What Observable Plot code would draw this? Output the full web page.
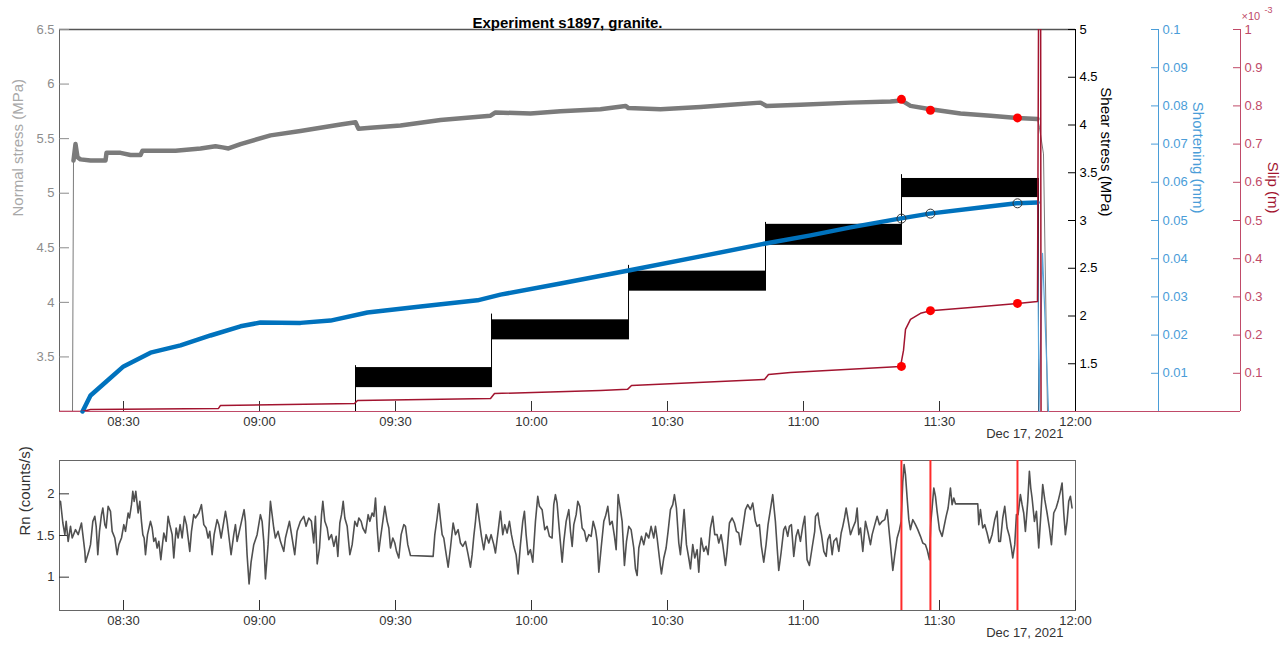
<!DOCTYPE html>
<html><head><meta charset="utf-8">
<script src="https://cdn.jsdelivr.net/npm/d3@7"></script>
<script src="https://cdn.jsdelivr.net/npm/@observablehq/plot@0.6"></script>
<style>
body{margin:0;background:#fff;font-family:"Liberation Sans",Arial,sans-serif}
#wrap{position:relative;width:1288px;height:646px;overflow:hidden}
</style></head><body><div id="wrap"></div>
<script>
// ---- time: minutes after 08:00, Dec 17 2021 ----
const tickMinutes = [30, 60, 90, 120, 150, 180, 210, 240];
const dateLabel = "Dec 17, 2021";
const xStartMinutes = 15.88, xEndMinutes = 240;

// ---- normal stress (MPa), grey ----
const normalMinutes = [18.75,18.97,19.41,19.85,20.51,22.72,24.93,26.03,26.25,29.34,31.54,33.75,34.19,41.47,46.99,50.29,51.84,53.16,55.81,62.43,69.04,77.87,81.18,81.84,84.49,91.10,99.93,110.96,112.06,119.78,126.40,135.22,140.74,141.40,148.46,157.28,163.90,170.51,171.84,179.34,190.37,199.19,201.62,203.60,208.02,214.63,221.25,227.21,231.62,232.06,232.94,233.82];
const normalMPa = [3.00,5.30,5.45,5.33,5.31,5.30,5.30,5.30,5.37,5.37,5.35,5.35,5.39,5.39,5.41,5.43,5.42,5.41,5.45,5.53,5.57,5.63,5.65,5.59,5.60,5.62,5.67,5.71,5.74,5.73,5.75,5.77,5.80,5.78,5.77,5.79,5.81,5.83,5.80,5.81,5.83,5.84,5.85,5.80,5.77,5.73,5.71,5.69,5.68,5.60,5.36,3.00];
const normalTicks = [3.5,4,4.5,5,5.5,6,6.5];

// ---- shear stress (MPa), black noisy load stages ----
const shearStageStart = [81.18,111.18,141.40,171.62,201.62];
const shearStageEnd   = [111.18,141.40,171.62,201.62,231.84];
const shearStageLow   = [1.25,1.75,2.26,2.74,3.24];
const shearStageHigh  = [1.46,1.96,2.47,2.96,3.44];
const shearJumpMinutes = [81.18,111.18,141.40,171.62,201.62,231.84];
const shearJumpFrom    = [1.00,1.25,1.75,2.26,2.74,1.00];
const shearJumpTo      = [1.48,2.02,2.53,2.98,3.48,3.44];
const shearTicks = [1.5,2,2.5,3,3.5,4,4.5,5];

// ---- shortening (mm), blue ----
const shortMinutes = [20.96,22.72,26.47,30.00,35.96,42.57,49.19,55.81,60.22,69.04,75.66,83.82,95.52,108.09,113.16,126.40,141.40,157.28,171.62,181.55,190.37,201.18,207.80,219.05,226.99,231.62,231.95,232.73,234.05];
const shortMm = [0,0.0042,0.0081,0.0118,0.0154,0.0173,0.0199,0.0223,0.0233,0.0232,0.0238,0.0259,0.0275,0.0291,0.0306,0.0335,0.0369,0.0406,0.0440,0.0461,0.0482,0.0505,0.0518,0.0534,0.0545,0.0547,0,0.0414,0];
const shortTicks = [0.01,0.02,0.03,0.04,0.05,0.06,0.07,0.08,0.09,0.1];

// ---- slip (x10^-3 m), dark red ----
const slipMinutes = [15.88,20.96,22.72,50.96,51.40,80.96,81.62,110.96,111.84,135.22,141.18,142.06,171.40,172.28,177.13,201.40,202.06,202.50,203.60,205.81,208.02,216.84,227.21,231.62,231.90,232.30,232.40];
const slipE3 = [0,0,0.005,0.008,0.016,0.021,0.029,0.034,0.047,0.055,0.058,0.068,0.084,0.097,0.102,0.118,0.160,0.215,0.241,0.257,0.264,0.272,0.283,0.288,1.2,1.2,0];
const slipTicks = [0.1,0.2,0.3,0.4,0.5,0.6,0.7,0.8,0.9,1];

// ---- marked events ----
const eventMinutes = [201.6, 208.0, 227.2];
const eventNormal = [5.86, 5.76, 5.69];
const eventSlip = [0.118, 0.264, 0.283];
const eventShort = [0.0505, 0.0518, 0.0545];

// ---- radon (counts/s) ----
const rnMinutes = [16.10,16.32,16.62,17.06,17.35,17.79,18.31,18.68,19.41,20.00,20.73,21.03,21.47,21.62,22.35,22.72,23.23,23.67,23.97,24.33,24.70,25.14,25.44,25.88,26.17,26.61,27.13,27.50,28.08,28.60,28.97,29.55,30.07,30.44,31.02,31.32,31.76,32.05,32.35,32.71,33.23,33.60,33.96,34.26,34.55,34.85,35.29,35.95,36.32,36.68,37.05,37.42,37.79,38.23,38.67,38.89,39.40,39.84,40.21,40.73,41.09,41.61,42.05,42.49,42.93,43.44,43.89,44.62,44.99,45.50,45.87,46.61,47.19,47.71,48.22,48.66,49.03,49.55,49.99,50.65,51.02,51.53,52.49,52.85,53.29,53.73,54.32,54.69,55.06,56.60,56.90,57.26,57.70,58.14,58.73,59.47,60.20,60.57,60.94,61.31,61.89,62.41,62.78,63.14,63.51,64.10,64.61,65.35,65.72,66.60,67.19,67.77,68.29,69.02,69.76,70.27,70.86,71.45,71.96,72.33,
72.72,73.24,73.68,73.97,74.41,74.93,75.30,75.88,76.40,76.91,77.28,77.72,78.09,78.46,78.82,79.34,79.93,80.44,81.03,81.54,81.91,82.42,82.79,83.38,83.97,84.34,84.85,85.22,85.59,85.95,86.32,86.69,87.20,87.64,88.16,88.53,88.89,89.41,89.85,90.22,90.73,91.24,91.83,92.20,92.71,93.30,98.30,98.67,99.18,99.55,99.92,100.29,100.65,101.02,101.61,102.12,102.71,103.23,103.81,104.33,104.84,105.43,106.02,106.53,106.90,107.27,107.64,108.00,108.52,108.96,109.47,109.99,110.58,111.09,111.68,112.05,112.63,113.15,113.66,114.10,114.62,115.13,115.57,116.09,116.60,117.04,117.56,118.07,118.44,118.81,119.25,119.76,120.28,120.87,121.38,121.75,122.34,122.92,123.44,123.95,124.54,124.91,125.28,125.64,126.16,
126.76,127.13,127.64,128.23,128.60,128.97,129.33,129.85,130.21,130.66,131.17,131.69,132.13,132.64,133.16,133.60,134.11,134.48,134.85,135.36,135.95,136.32,136.83,137.27,137.79,138.30,138.67,139.11,139.62,139.99,140.50,140.95,141.46,141.97,142.56,142.93,143.30,143.67,144.25,144.77,145.28,145.87,146.38,146.97,147.34,147.71,148.22,148.66,149.18,149.69,150.13,150.65,151.16,151.53,151.97,152.49,152.85,153.22,153.66,154.18,154.69,155.06,155.57,156.01,156.53,156.90,157.41,158.00,158.51,158.95,159.47,159.98,160.42,160.94,161.31,161.82,162.19,162.78,163.14,163.66,164.25,164.76,165.20,165.72,166.08,166.45,166.82,167.19,167.70,168.29,168.80,169.39,169.76,170.27,170.71,171.23,171.74,172.18,172.70,173.21,173.80,174.17,174.54,175.05,175.64,176.01,176.52,176.89,177.33,177.85,178.36,178.80,179.32,179.83,180.27,180.79,181.30,181.89,182.47,
182.65,183.16,183.53,183.97,184.48,185.00,185.36,185.81,186.32,186.69,187.28,187.79,188.31,188.67,189.04,189.41,189.77,190.36,190.88,191.47,191.83,192.20,192.57,193.08,193.67,194.26,194.77,195.14,195.73,196.24,196.76,197.35,197.93,198.45,198.82,199.18,199.70,200.14,200.65,201.17,201.54,201.90,202.20,202.49,202.86,203.23,203.59,204.11,204.70,205.21,205.80,206.31,206.90,207.27,207.78,208.08,208.37,208.74,209.11,209.47,209.99,210.58,210.94,211.46,211.90,212.41,212.78,213.15,213.52,218.44,218.66,219.03,219.54,219.98,220.50,221.01,221.60,222.19,222.70,223.07,223.44,223.95,224.39,224.91,225.42,225.86,226.16,226.60,226.97,227.33,227.85,228.22,228.58,228.95,229.47,229.83,230.13,230.42,230.94,231.38,231.89,232.26,232.77,233.22,233.73,234.24,234.69,235.20,235.72,236.16,236.67,237.04,237.41,237.77,238.14,238.51,238.88,239.24];
const rnValues = [1.91,1.80,1.65,1.51,1.67,1.43,1.61,1.47,1.57,1.51,1.65,1.51,1.31,1.18,1.31,1.39,1.67,1.73,1.61,1.27,1.55,1.75,1.83,1.63,1.59,1.85,1.79,1.55,1.47,1.27,1.39,1.47,1.63,1.55,1.77,1.71,1.87,2.03,1.91,2.03,1.77,1.91,1.67,1.51,1.47,1.27,1.51,1.67,1.59,1.43,1.47,1.35,1.43,1.21,1.43,1.53,1.43,1.73,1.63,1.51,1.23,1.59,1.47,1.63,1.47,1.73,1.63,1.31,1.55,1.75,1.71,1.77,1.87,1.63,1.59,1.47,1.55,1.27,1.51,1.69,1.63,1.47,1.79,1.67,1.47,1.27,1.51,1.63,1.43,1.81,1.67,1.27,0.92,1.18,1.39,1.51,1.75,1.67,1.43,0.98,1.39,1.91,1.75,1.59,1.47,1.55,1.43,1.31,1.47,1.67,1.47,1.27,1.55,1.67,1.73,1.61,1.71,1.67,1.41,1.73,
1.16,1.35,1.75,1.91,1.67,1.59,1.45,1.51,1.37,1.49,1.25,1.65,1.75,1.91,1.71,1.61,1.27,1.39,1.67,1.61,1.71,1.67,1.59,1.53,1.75,1.67,1.77,1.73,1.95,1.59,1.31,1.47,1.67,1.85,1.67,1.59,1.35,1.47,1.41,1.31,1.23,1.51,1.63,1.61,1.39,1.26,1.25,1.51,1.71,1.88,1.69,1.51,1.47,1.33,1.12,1.35,1.65,1.51,1.57,1.41,1.37,1.43,1.27,1.12,1.27,1.49,1.67,1.88,1.67,1.49,1.33,1.51,1.41,1.51,1.39,1.29,1.55,1.79,1.51,1.63,1.53,1.67,1.51,1.37,1.27,1.04,1.39,1.67,1.79,1.51,1.27,1.33,1.18,1.67,1.97,1.85,1.81,1.57,1.61,1.49,1.47,1.87,1.99,1.89,1.55,
1.18,1.43,1.67,1.81,1.55,1.37,1.63,1.75,1.91,1.85,1.59,1.55,1.43,1.51,1.49,1.67,1.57,1.43,1.06,1.35,1.67,1.73,1.85,1.63,1.67,1.49,1.33,1.99,1.81,1.67,1.14,1.43,1.61,1.57,1.35,1.10,1.02,1.35,1.49,1.39,1.53,1.47,1.61,1.47,1.61,1.47,1.23,1.04,1.23,1.35,1.55,1.81,1.87,1.99,1.83,1.41,1.27,1.51,1.81,1.39,1.23,1.10,1.39,1.23,1.33,1.06,1.47,1.31,1.37,1.27,1.59,1.73,1.51,1.51,1.41,1.51,1.39,1.14,1.31,1.65,1.71,1.65,1.55,1.53,1.39,1.53,1.67,1.81,1.87,1.81,1.89,1.67,1.61,1.63,1.37,1.18,1.39,1.63,1.81,1.99,1.67,1.37,1.08,1.29,1.57,1.61,1.49,1.61,1.63,1.25,1.49,1.57,1.43,1.61,1.73,1.21,1.14,1.35,1.55,
1.73,1.77,1.63,1.51,1.31,1.25,1.45,1.51,1.27,1.43,1.47,1.31,1.53,1.61,1.71,1.83,1.71,1.51,1.59,1.67,1.83,1.51,1.59,1.31,1.67,1.53,1.39,1.51,1.63,1.73,1.63,1.67,1.69,1.81,1.59,1.39,1.08,1.27,1.47,1.57,1.67,2.15,2.35,2.23,1.95,1.69,1.57,1.69,1.63,1.57,1.49,1.41,1.39,1.33,1.21,1.65,1.83,2.07,1.97,1.79,1.57,1.49,1.59,1.73,1.83,2.07,1.87,1.95,1.88,1.88,1.63,1.81,1.59,1.63,1.53,1.41,1.51,1.69,1.79,1.43,1.43,1.71,1.85,1.59,1.49,1.35,1.23,1.39,1.75,1.75,1.99,1.87,1.77,1.55,1.91,2.27,2.07,1.95,1.67,1.79,1.35,1.67,2.11,1.93,1.77,1.59,1.39,1.77,1.83,1.91,2.03,2.13,1.77,1.51,1.67,1.91,1.97,1.83];
const rnTicks = [1, 1.5, 2];

// ---- labels ----
const titleText = "Experiment s1897, granite.";
const normalLabel = "Normal stress (MPa)";
const shearLabel = "Shear stress (MPa)";
const shortLabel = "Shortening (mm)";
const slipLabel = "Slip (m)";
const rnLabel = "Rn (counts/s)";
const slipMultiplier = "\u00d710";
const slipExponent = "-3";

// ================= build =================
const W = 1288;
const T0 = Date.UTC(2021, 11, 17, 8, 0, 0);
const toDate = m => new Date(T0 + m * 60000);
const xDomain = [toDate(xStartMinutes), toDate(xEndMinutes)];
const tickDates = tickMinutes.map(toDate);
const fmt = d3.utcFormat("%H:%M");
const numFmt = d => String(+(+d).toFixed(3));

const normalData = normalMinutes.map((m, i) => ({m, t: toDate(m), v: normalMPa[i]}));
const shearStages = shearStageStart.map((s, i) => ({t1: toDate(s), t2: toDate(shearStageEnd[i]), lo: shearStageLow[i], hi: shearStageHigh[i]}));
const shearJumps = shearJumpMinutes.map((m, i) => ({t: toDate(m), from: shearJumpFrom[i], to: shearJumpTo[i]}));
const shortData = shortMinutes.map((m, i) => ({m, t: toDate(m), v: shortMm[i]}));
const slipData = slipMinutes.map((m, i) => ({m, t: toDate(m), v: slipE3[i]}));
const events = eventMinutes.map((m, i) => ({t: toDate(m), n: eventNormal[i], s: eventSlip[i], sh: eventShort[i]}));
const rnData = rnMinutes.map((m, i) => ({t: toDate(m), v: rnValues[i]}));

const cGrey = "#7b7b7b", cBlue = "#0072BD", cShortAx = "#4a9dd8", cSlip = "#A2142F", cSlipAx = "#c04a68";
const font = "'Liberation Sans', Arial, Helvetica, sans-serif";
const wrap = document.getElementById("wrap");
function layer(opts) {
  const svg = Plot.plot({width: W, style: {background: "transparent", overflow: "visible", fontFamily: font, fontSize: "13px", color: "#333"}, ...opts});
  svg.style.position = "absolute"; svg.style.left = "0px"; svg.style.top = "0px";
  wrap.appendChild(svg);
}
const topOpts = {height: 450, marginTop: 29, marginBottom: 39, marginLeft: 59, marginRight: W - 1075};
const txt = d => d;

// 1. normal stress + frame + time axis + title
layer({...topOpts, x: {type: "utc", domain: xDomain}, y: {domain: [3, 6.5]}, marks: [
  Plot.frame({stroke: "#666"}),
  Plot.ruleY([6.5], {stroke: "#555", strokeWidth: 1.5}),
  Plot.axisY({ticks: normalTicks, tickFormat: numFmt, tickSize: -10, tickPadding: 15, color: "#8c8c8c", label: null, fontSize: 13}),
  Plot.axisX({ticks: tickDates, tickFormat: fmt, tickSize: -10, tickPadding: 15, color: "#333", label: null, fontSize: 13}),
  Plot.text([dateLabel], {text: txt, frameAnchor: "bottom-right", dx: -12, dy: 26, textAnchor: "end", fill: "#333", fontSize: 13}),
  Plot.text([titleText], {text: txt, frameAnchor: "top", dy: -12, fontWeight: "bold", fontSize: 15, fill: "#000"}),
  Plot.text([normalLabel], {text: txt, frameAnchor: "left", dx: -41, dy: -4, rotate: -90, fill: "#a8a8a8", fontSize: 15}),
  Plot.line(normalData, {x: "t", y: "v", stroke: cGrey, strokeWidth: 1}),
  Plot.line(normalData, {filter: d => d.m > 18.9 && d.m < 231.7, x: "t", y: "v", stroke: cGrey, strokeWidth: 4.5})
]});

// 2. shear stress
layer({...topOpts, x: {type: "utc", domain: xDomain, axis: null}, y: {domain: [1, 5]}, marks: [
  Plot.rect(shearStages, {x1: "t1", x2: "t2", y1: "lo", y2: "hi", fill: "#000"}),
  Plot.ruleX(shearJumps, {x: "t", y1: "from", y2: "to", stroke: "#000", strokeWidth: 1}),
  Plot.ruleX([xDomain[1]], {stroke: "#000"}),
  Plot.axisY({anchor: "right", ticks: shearTicks, tickFormat: numFmt, tickSize: -8, tickPadding: 12, color: "#000", label: null, fontSize: 13}),
  Plot.text([shearLabel], {text: txt, frameAnchor: "right", dx: 30, dy: -4, rotate: 90, fill: "#000", fontSize: 15})
]});

// 3. shortening axis
layer({...topOpts, marginRight: W - 1158, x: {domain: [0, 1], axis: null}, y: {domain: [0, 0.1]}, marks: [
  Plot.ruleX([1], {stroke: cShortAx}),
  Plot.ruleY([0], {stroke: cShortAx}),
  Plot.axisY({anchor: "right", ticks: shortTicks, tickFormat: numFmt, tickSize: -8, tickPadding: 12, color: cShortAx, label: null, fontSize: 13}),
  Plot.text([shortLabel], {text: txt, frameAnchor: "right", dx: 39, dy: -7, rotate: 90, fill: cShortAx, fontSize: 15})
]});

// 4. slip axis
layer({...topOpts, marginRight: W - 1240, x: {domain: [0, 1], axis: null}, y: {domain: [0, 1]}, marks: [
  Plot.ruleX([1], {stroke: cSlipAx}),
  Plot.ruleY([0], {stroke: cSlipAx}),
  Plot.axisY({anchor: "right", ticks: slipTicks, tickFormat: numFmt, tickSize: -8, tickPadding: 12, color: cSlipAx, label: null, fontSize: 13}),
  Plot.text([slipMultiplier], {text: txt, frameAnchor: "top-right", dx: 1, dy: -17, textAnchor: "start", fill: cSlipAx, fontSize: 11}),
  Plot.text([slipExponent], {text: txt, frameAnchor: "top-right", dx: 24, dy: -23, textAnchor: "start", fill: cSlipAx, fontSize: 9}),
  Plot.text([slipLabel], {text: txt, frameAnchor: "right", dx: 32, dy: -7, rotate: 90, fill: cSlip, fontSize: 15})
]});

// 5. shortening data
layer({...topOpts, x: {type: "utc", domain: xDomain, axis: null}, y: {domain: [0, 0.1], axis: null}, marks: [
  Plot.line(shortData, {x: "t", y: "v", stroke: "#5aa5d8", strokeWidth: 1.2}),
  Plot.line(shortData, {filter: d => d.m < 231.7, x: "t", y: "v", stroke: cBlue, strokeWidth: 4.5}),
  Plot.dot(events, {x: "t", y: "sh", r: 4.5, stroke: "#333", strokeWidth: 1, fill: "none"})
]});

// 6. slip data + event dots
layer({...topOpts, x: {type: "utc", domain: xDomain, axis: null}, y: {domain: [0, 1], axis: null}, marks: [
  Plot.line(slipData, {x: "t", y: "v", stroke: cSlip, strokeWidth: 1.5, clip: true}),
  Plot.dot(events, {x: "t", y: "s", r: 4.5, fill: "#ff0000"})
]});
layer({...topOpts, x: {type: "utc", domain: xDomain, axis: null}, y: {domain: [3, 6.5], axis: null}, marks: [
  Plot.dot(events, {x: "t", y: "n", r: 4.5, fill: "#ff0000"})
]});

// 7. radon panel
layer({height: 646, marginTop: 460, marginBottom: 36, marginLeft: 59, marginRight: W - 1075,
  x: {type: "utc", domain: xDomain}, y: {domain: [0.6, 2.4]}, marks: [
  Plot.frame({stroke: "#666"}),
  Plot.axisY({ticks: rnTicks, tickFormat: numFmt, tickSize: -10, tickPadding: 15, color: "#333", label: null, fontSize: 13}),
  Plot.axisX({ticks: tickDates, tickFormat: fmt, tickSize: -10, tickPadding: 15, color: "#333", label: null, fontSize: 13}),
  Plot.text([dateLabel], {text: txt, frameAnchor: "bottom-right", dx: -12, dy: 26, textAnchor: "end", fill: "#333", fontSize: 13}),
  Plot.text([rnLabel], {text: txt, frameAnchor: "left", dx: -34, rotate: -90, fill: "#333", fontSize: 15}),
  Plot.line(rnData, {x: "t", y: "v", stroke: "#505050", strokeWidth: 1.6, strokeLinejoin: "round"}),
  Plot.ruleX(eventMinutes.map(toDate), {stroke: "#ff2a2a", strokeWidth: 2})
]});
</script></body></html>
